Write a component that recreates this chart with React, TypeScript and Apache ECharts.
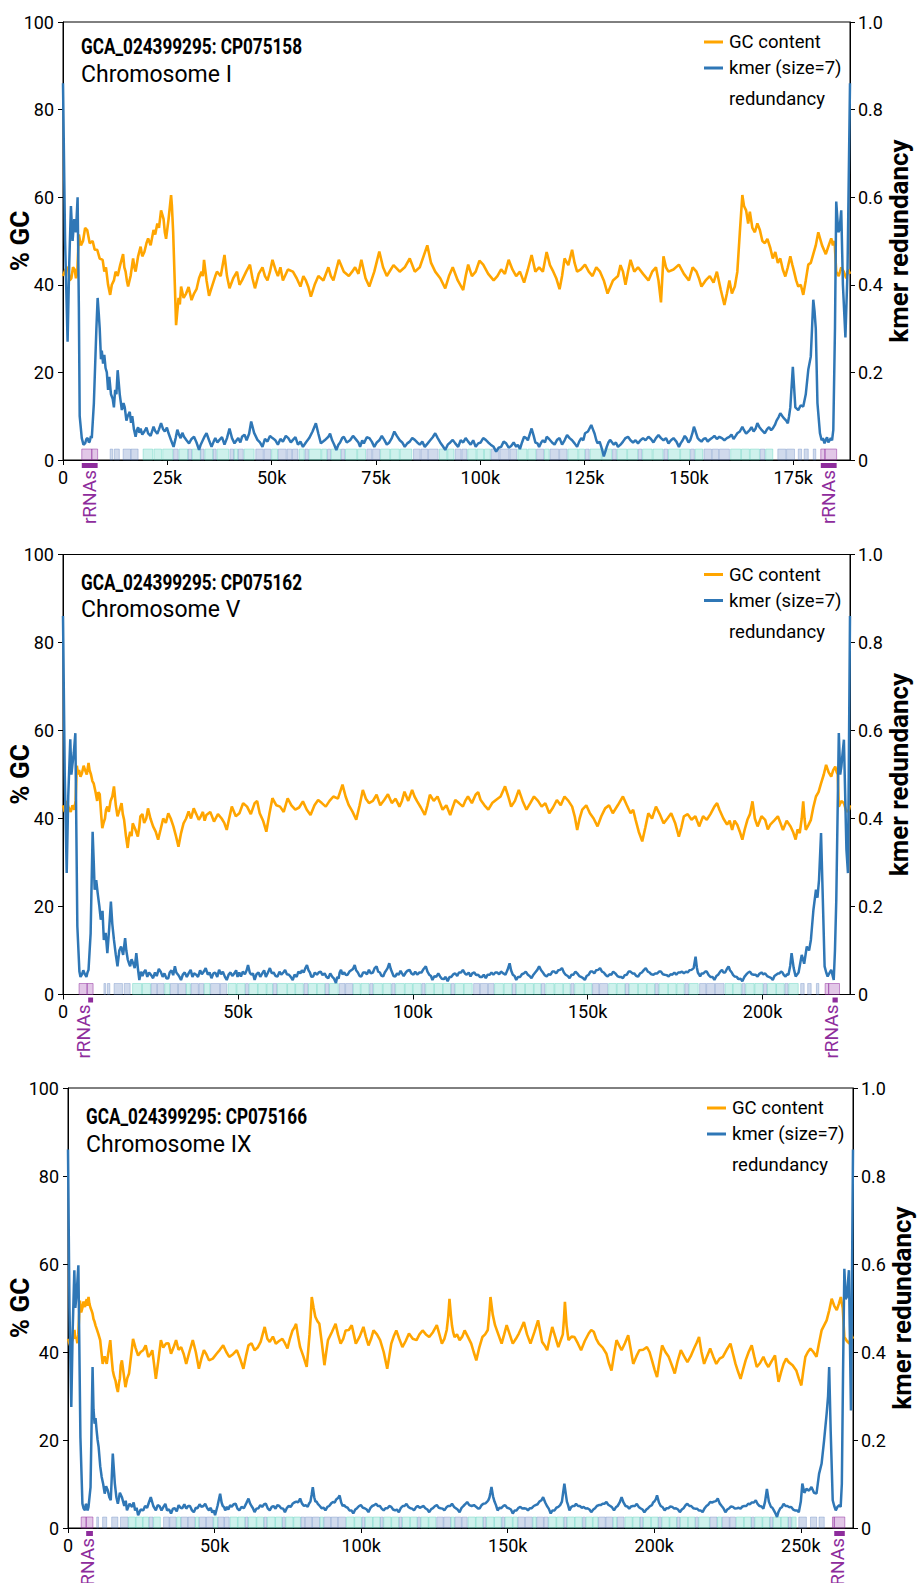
import { useEffect, useRef } from 'react';
import * as echarts from 'echarts';

// ---------- Chromosome I (CP075158) : position in kb ----------
const chr1Gc: [number, number][] = [
  [0, 42], [0.6, 43.5], [1.2, 44], [1.6, 41], [2.0, 41.5], [2.4, 44], [2.8, 43.5], [3.1, 41.5], [3.4, 42.5], [3.8, 51.5], [4.3, 49], [4.8, 50], [5.3, 53], [5.8, 52.5], [6.4, 49.5], [7.1, 50], [7.6, 48], [8.2, 48], [8.8, 46], [9.5, 45.7], [9.9, 43], [10.3, 44], [10.8, 40], [11.3, 37.7], [11.7, 40], [12.2, 41], [12.6, 43], [13.1, 42], [13.7, 44.5], [14.4, 47], [14.7, 44], [15.0, 43], [15.3, 41], [15.6, 39.6], [16.2, 42], [16.8, 46], [17.1, 44], [17.4, 43], [18.0, 46.5], [18.6, 48.7], [19.0, 46.5], [19.5, 47.5], [20.0, 49.5], [20.4, 50.6], [21.0, 49], [21.7, 52.5], [22.1, 51.5], [22.6, 54], [23.0, 53], [23.5, 57], [23.8, 56], [24.1, 55], [24.4, 52], [24.7, 50.5], [25.3, 55], [25.9, 60.5], [26.1, 58], [26.4, 52], [26.8, 40], [27.1, 30.8], [27.4, 34], [27.7, 37], [28.0, 35.5], [28.3, 39.6], [28.9, 37], [29.5, 38], [30.1, 39.5], [30.8, 36.5], [31.4, 38], [32.0, 39], [32.6, 41.5], [33.2, 43], [33.5, 42], [33.8, 45.7], [34.4, 41], [35.0, 37.5], [35.5, 39], [36.0, 40.5], [36.5, 42], [36.9, 43], [37.8, 42], [38.7, 46.8], [39.3, 42], [39.9, 39.2], [40.8, 41.5], [41.7, 43], [42.3, 40], [42.9, 41], [43.9, 43], [44.8, 44.6], [45.4, 41.5], [46.0, 39.2], [46.9, 42.5], [47.8, 44], [48.4, 42], [49.0, 41], [49.6, 43], [50.2, 45.7], [50.9, 43.5], [51.5, 42], [52.1, 44], [52.7, 41], [53.9, 43.5], [55.1, 43], [56.0, 41.5], [56.9, 39.6], [57.6, 42], [58.2, 41], [58.8, 39.5], [59.4, 37.3], [60.3, 40], [61.2, 42], [62.4, 41], [63.6, 44], [64.2, 42], [64.8, 41], [65.5, 43.5], [66.1, 45.7], [67.3, 43], [68.5, 42], [69.3, 43], [70.0, 44], [70.8, 42.5], [71.5, 45.7], [72.5, 41.5], [73.4, 39.6], [74.6, 43], [75.8, 47.6], [76.7, 44], [77.6, 42], [79.2, 44.5], [80.7, 43], [81.9, 44], [83.1, 46], [84.3, 43], [85.5, 44], [86.4, 46.5], [87.3, 49], [88.2, 45], [89.2, 43], [90.4, 41.5], [91.6, 39.2], [92.5, 42], [93.4, 44], [94.6, 41], [95.9, 38.8], [96.5, 42], [97.1, 44.6], [98.0, 42], [98.9, 43], [99.8, 45.5], [100.7, 44.6], [101.9, 42.5], [103.2, 41], [104.1, 42], [105, 43.5], [105.9, 42.5], [106.8, 45.7], [107.7, 43.5], [108.6, 42], [109.5, 43], [110.5, 40.5], [111.4, 43.5], [112.3, 46.8], [113.2, 43], [114.1, 44], [115.0, 43], [115.9, 47.5], [116.7, 44.5], [117.5, 43], [118.2, 41.5], [119.0, 39], [119.6, 42], [120.2, 46], [121.1, 44.5], [122.0, 48], [122.6, 45], [123.2, 43], [124.1, 43.5], [125.1, 44.6], [126.0, 43], [126.9, 42], [127.8, 44], [128.7, 43], [129.6, 41], [130.5, 38], [131.8, 41], [133.0, 42], [133.6, 44.5], [134.2, 43], [134.8, 40], [135.4, 43], [136.0, 45.7], [136.9, 43], [137.8, 44], [139.0, 42.5], [140.3, 41], [141.2, 43], [142.1, 44], [142.7, 41], [143.3, 36], [143.9, 46.5], [144.5, 44], [145.1, 43], [146.3, 43.5], [147.6, 44.6], [148.8, 42.5], [150.0, 41], [150.9, 44], [151.8, 43], [152.4, 41.5], [153.0, 39.6], [154.0, 41], [155.0, 42], [155.9, 40.5], [156.7, 43], [157.6, 39], [158.5, 35.4], [159.1, 38], [159.7, 41], [160.3, 38], [161.0, 39.6], [161.6, 43], [162.2, 52], [162.8, 60.5], [163.2, 58], [163.7, 57], [164.2, 54], [164.6, 56.7], [165.2, 53], [165.8, 52], [166.4, 54], [167.0, 52.5], [167.6, 50], [168.2, 49.5], [168.8, 50.5], [169.5, 48.4], [170.1, 46], [170.7, 47.5], [171.3, 45], [171.9, 46], [172.5, 43.5], [173.1, 41.9], [173.7, 44], [174.3, 46.5], [174.8, 44.5], [175.2, 43], [175.7, 41], [176.2, 39.6], [176.8, 40], [177.4, 37.7], [178.0, 41], [178.6, 44.6], [179.2, 45], [179.8, 47], [180.4, 49], [181.0, 52], [181.9, 49], [182.8, 47], [183.5, 49], [184.1, 50.6], [184.5, 49], [184.9, 50], [185.3, 43], [185.9, 42], [186.5, 44], [187.1, 43], [187.7, 41.5], [188.2, 43.5], [188.6, 42.5],
];
const chr1Kmer: [number, number][] = [
  [0, 0.86], [0.5, 0.5], [1.1, 0.27], [1.5, 0.45], [1.9, 0.58], [2.3, 0.5], [2.7, 0.55], [3.1, 0.52], [3.5, 0.6], [3.8, 0.35], [4.0, 0.1], [4.5, 0.05], [4.9, 0.035], [5.3, 0.038], [5.6, 0.048], [5.9, 0.05], [6.2, 0.04], [6.4, 0.042], [6.7, 0.055], [6.9, 0.05], [7.4, 0.13], [8.0, 0.3], [8.3, 0.37], [8.6, 0.33], [8.8, 0.3], [9.1, 0.23], [9.3, 0.25], [9.6, 0.22], [9.9, 0.24], [10.2, 0.21], [10.5, 0.2], [10.8, 0.16], [11.1, 0.19], [11.5, 0.15], [11.9, 0.14], [12.2, 0.12], [12.5, 0.16], [12.8, 0.15], [13.1, 0.205], [13.6, 0.15], [14.1, 0.114], [14.5, 0.13], [14.8, 0.12], [15.2, 0.09], [15.5, 0.1], [16.0, 0.11], [16.3, 0.085], [16.6, 0.1], [17.0, 0.07], [17.4, 0.053],
  [17.7, 0.068], [18.0, 0.075], [18.3, 0.062], [18.6, 0.072], [19.0, 0.058], [19.5, 0.065], [20.0, 0.074], [20.4, 0.061], [21.0, 0.055], [21.7, 0.076], [22.1, 0.066], [22.6, 0.06], [23.0, 0.07], [23.5, 0.084], [24.0, 0.07], [24.4, 0.065], [24.9, 0.074], [25.3, 0.061], [25.9, 0.045], [26.5, 0.03], [27.0, 0.05], [27.4, 0.069], [27.8, 0.058], [28.2, 0.05], [28.6, 0.062], [29.0, 0.053], [29.6, 0.045], [30.2, 0.038], [30.8, 0.048], [31.4, 0.053], [32.0, 0.04], [32.6, 0.023], [33.0, 0.035], [33.5, 0.045], [34.0, 0.055], [34.4, 0.061], [35.0, 0.045], [35.6, 0.03], [36.1, 0.042], [36.5, 0.05], [37.0, 0.04], [37.5, 0.046], [38.1, 0.052], [38.7, 0.035], [39.3, 0.05], [39.9, 0.072], [40.5, 0.05], [41.1, 0.038], [41.6, 0.045], [42.0, 0.05], [42.5, 0.04], [42.9, 0.053], [43.5, 0.058], [44.0, 0.045], [44.6, 0.06], [45.1, 0.088], [45.8, 0.062], [46.6, 0.046], [47.2, 0.04], [47.8, 0.03], [48.4, 0.048], [49.0, 0.042], [49.6, 0.055], [50.2, 0.05], [50.9, 0.045], [51.5, 0.035], [52.1, 0.048], [52.7, 0.042], [53.4, 0.055], [54.0, 0.05], [54.6, 0.04], [55.1, 0.046], [55.7, 0.052], [56.3, 0.035], [56.9, 0.042], [57.5, 0.03], [58.2, 0.04], [59.0, 0.05], [59.8, 0.065], [60.6, 0.084], [61.2, 0.06], [61.8, 0.038], [62.7, 0.045], [63.6, 0.053], [64.0, 0.06], [64.5, 0.045], [65.0, 0.035], [65.5, 0.023], [66.0, 0.035], [66.4, 0.04], [66.9, 0.05], [67.3, 0.053], [68.0, 0.04], [68.8, 0.045], [69.5, 0.055], [70.3, 0.046], [70.8, 0.04], [71.2, 0.03], [71.7, 0.045], [72.1, 0.038], [72.8, 0.052], [73.4, 0.05], [74.0, 0.042], [74.6, 0.03], [75.2, 0.04], [75.8, 0.045], [76.4, 0.055], [77.0, 0.046], [77.6, 0.035], [78.2, 0.04], [78.8, 0.05], [79.4, 0.065], [80.0, 0.055], [80.7, 0.045], [81.3, 0.04], [81.9, 0.03], [82.5, 0.038], [83.1, 0.042], [83.7, 0.05], [84.3, 0.046], [84.9, 0.04], [85.5, 0.035], [86.1, 0.042], [86.7, 0.03], [87.4, 0.038], [88.0, 0.045], [88.6, 0.052], [89.2, 0.061], [89.8, 0.05], [90.4, 0.04], [91.0, 0.032], [91.6, 0.023], [92.2, 0.035], [92.8, 0.04], [93.4, 0.046], [94.0, 0.038], [94.7, 0.03], [95.3, 0.045], [95.9, 0.04], [96.5, 0.05], [97.1, 0.042], [97.7, 0.035], [98.3, 0.045], [98.9, 0.03], [99.5, 0.038], [100.1, 0.04], [100.7, 0.05], [101.3, 0.046], [101.9, 0.04], [102.5, 0.035], [103.2, 0.03], [103.8, 0.019], [104.4, 0.028], [105.0, 0.03], [105.6, 0.042], [106.2, 0.038], [106.8, 0.028], [107.4, 0.032], [108.0, 0.04], [108.6, 0.03], [109.0, 0.035], [109.5, 0.025], [110.0, 0.04], [110.5, 0.053], [111.0, 0.05], [111.4, 0.045], [111.9, 0.06], [112.3, 0.072], [112.8, 0.055], [113.2, 0.04], [113.7, 0.038], [114.1, 0.03], [114.6, 0.04], [115.0, 0.045], [115.5, 0.04], [115.9, 0.053], [116.5, 0.048], [117.2, 0.04], [117.8, 0.035], [118.4, 0.046], [119.0, 0.05], [119.6, 0.035], [120.2, 0.045], [120.8, 0.057], [121.4, 0.05], [122.0, 0.045], [122.6, 0.038], [123.2, 0.03], [123.7, 0.042], [124.2, 0.05], [124.7, 0.045], [125.1, 0.061], [125.8, 0.065], [126.6, 0.08], [127.0, 0.07], [127.4, 0.06], [127.8, 0.045], [128.1, 0.038], [128.6, 0.042], [129.0, 0.03], [129.3, 0.02], [129.6, 0.008], [130.0, 0.02], [130.3, 0.03], [130.7, 0.04], [131.1, 0.046], [131.6, 0.04], [132.0, 0.035], [132.5, 0.04], [133.0, 0.03], [133.6, 0.035], [134.2, 0.042], [134.8, 0.05], [135.4, 0.053], [136.0, 0.045], [136.6, 0.04], [137.2, 0.045], [137.8, 0.038], [138.4, 0.045], [139.0, 0.05], [139.6, 0.045], [140.3, 0.053], [140.9, 0.048], [141.5, 0.04], [142.1, 0.05], [142.7, 0.057], [143.3, 0.05], [143.9, 0.045], [144.5, 0.05], [145.1, 0.038], [145.7, 0.045], [146.3, 0.05], [147.0, 0.042], [147.6, 0.03], [148.0, 0.038], [148.5, 0.045], [149.0, 0.055], [149.4, 0.05], [149.9, 0.04], [150.3, 0.045], [150.8, 0.06], [151.2, 0.076], [151.6, 0.065], [152.1, 0.05], [152.6, 0.045], [153.0, 0.042], [153.5, 0.048], [154.0, 0.05], [154.5, 0.042], [154.9, 0.046], [155.5, 0.05], [156.1, 0.055], [156.7, 0.048], [157.3, 0.053], [157.9, 0.05], [158.5, 0.045], [159.1, 0.05], [159.7, 0.053], [160.2, 0.058], [160.7, 0.048], [161.2, 0.055], [161.6, 0.061], [162.2, 0.065], [162.8, 0.076], [163.2, 0.068], [163.7, 0.06], [164.2, 0.065], [164.6, 0.069], [165.0, 0.075], [165.5, 0.065], [166.0, 0.072], [166.4, 0.084], [166.9, 0.075], [167.3, 0.07], [167.8, 0.065], [168.2, 0.061], [168.7, 0.07], [169.2, 0.075], [169.7, 0.068], [170.1, 0.072], [170.6, 0.08], [171.0, 0.09], [171.5, 0.098], [171.9, 0.107], [172.4, 0.1], [172.8, 0.095], [173.3, 0.09], [173.7, 0.084], [174.0, 0.1],
  [174.3, 0.12], [174.9, 0.213], [175.5, 0.12], [176.2, 0.114], [176.8, 0.125], [177.4, 0.122], [178.0, 0.15], [178.6, 0.206], [179.2, 0.236], [179.5, 0.3], [179.8, 0.366], [180.1, 0.34], [180.4, 0.3], [180.8, 0.13], [181.4, 0.061], [181.8, 0.045], [182.1, 0.05], [182.5, 0.038], [182.8, 0.046], [183.1, 0.052], [183.4, 0.04], [183.7, 0.045], [184.0, 0.05], [184.3, 0.045], [184.6, 0.069], [185.0, 0.3], [185.3, 0.59], [185.8, 0.52], [186.1, 0.526], [186.5, 0.57], [186.9, 0.4], [187.5, 0.28], [188.0, 0.43], [188.6, 0.86],
];
// gene features [start kb, end kb, kind: 0 = teal, 1 = blue]
const chr1Genes: [number, number, number][] = [
  [11.3, 11.9, 1], [12.3, 13.5, 1], [14.4, 16.2, 1], [16.3, 18.0, 1], [19.2, 21.5, 0], [21.8, 23.6, 0], [23.9, 26.3, 0], [26.5, 27.6, 1], [27.8, 29.9, 0], [30.0, 30.8, 1], [31.0, 32.9, 0], [33.0, 33.8, 1], [34.0, 35.9, 0], [36.0, 36.7, 1], [36.9, 39.7, 0], [40.0, 40.9, 1], [41.0, 41.9, 0], [42.0, 43.2, 1], [43.4, 45.8, 0], [46.2, 48.0, 1], [48.2, 49.8, 1], [50.0, 51.4, 0], [51.6, 53.5, 1], [53.7, 54.8, 1], [55.0, 56.3, 1], [56.6, 57.8, 0], [58.0, 58.8, 1], [59.0, 61.8, 0], [62.0, 63.2, 0], [63.4, 64.1, 1], [64.3, 66.5, 0], [66.7, 67.5, 1], [67.7, 70.4, 0], [70.6, 72.5, 0], [72.8, 74.0, 1], [74.2, 75.9, 1], [76.1, 78.3, 0], [78.5, 80.6, 0], [80.8, 83.6, 0], [84.0, 85.6, 1], [85.8, 87.4, 1], [87.6, 89.9, 1], [90.2, 92.0, 0], [92.2, 93.7, 0], [94.0, 95.4, 1], [95.6, 96.8, 1], [97.0, 99.0, 0], [99.2, 100.8, 0], [101.0, 102.4, 0], [102.6, 104.5, 1], [104.7, 106.9, 1], [107.1, 108.7, 1], [109.0, 111.2, 0], [111.4, 113.3, 0], [113.5, 115.2, 1], [115.4, 116.5, 0], [116.7, 118.8, 1], [119.0, 120.8, 1], [121.0, 123.4, 0], [123.6, 125.0, 0], [125.2, 126.1, 1], [126.3, 129.0, 0], [129.2, 131.5, 0], [131.7, 132.6, 1], [132.8, 135.1, 0], [135.3, 137.7, 0], [137.9, 138.7, 1], [138.9, 141.2, 0], [141.4, 143.8, 0], [144.0, 144.9, 1], [145.1, 147.8, 0], [148.0, 150.2, 0], [150.4, 151.3, 1], [151.5, 153.3, 0], [153.6, 155.4, 1], [155.6, 157.1, 1], [157.3, 159.7, 1], [160.0, 162.4, 0], [162.6, 164.5, 0], [164.7, 166.9, 0], [167.1, 168.2, 1], [168.4, 170.1, 0], [171.3, 173.2, 1], [173.4, 175.3, 1], [176.2, 177.0, 1], [177.6, 178.6, 1], [179.8, 180.4, 1],
];
const chr1RrnaRegions: [number, number][] = [[4.5, 6.9], [6.9, 8.3], [181.6, 182.6], [182.6, 185.4]];
const chr1RrnaBars: [number, number][] = [[4.5, 8.3], [181.6, 185.4]];
const chr1RrnaLabels: number[] = [6.4, 183.5];

// ---------- Chromosome V (CP075162) ----------
const chr5Gc: [number, number][] = [
  [0, 43], [0.5, 41.5], [1.06, 44], [1.6, 42.5], [2.2, 41.5], [2.7, 43], [3.24, 42], [3.6, 44], [3.96, 52], [4.3, 50], [4.6, 51], [5.0, 49.5], [5.42, 50.3], [5.9, 52], [6.3, 51], [6.8, 50], [7.3, 52.6], [7.6, 51], [8.0, 50], [8.4, 48.5], [8.76, 48], [9.3, 46], [9.77, 44], [10.1, 46], [10.5, 45.5], [10.9, 41], [11.23, 37.8], [11.6, 39], [12.0, 40], [12.3, 42], [12.68, 42.7], [13.1, 41.5], [13.6, 44], [14.1, 45], [14.57, 47.3], [15.1, 43], [15.58, 40.5], [16.2, 42], [16.74, 43.5], [17.1, 41], [17.47, 39.7], [18.0, 36], [18.49, 33.3], [18.8, 35.5], [19.2, 37], [19.6, 36], [19.94, 38.9], [20.7, 37.5], [21.39, 35.9], [21.8, 38], [22.12, 40.5], [22.7, 41], [23.2, 39], [23.8, 40], [24.3, 42.3], [25.0, 40], [25.75, 38.2], [26.5, 37], [27.2, 35.2], [27.9, 37.5], [28.65, 40], [29.4, 39], [30.1, 41.2], [30.8, 40], [31.56, 38.2], [32.3, 36], [33.01, 33.6], [33.7, 36.5], [34.46, 38.9], [35.2, 40], [35.91, 41.6], [36.6, 40], [37.37, 42.3], [38.1, 41], [38.82, 39.7], [39.4, 40.5], [40.0, 41.5], [40.5, 39.5], [41.0, 40.8], [42.1, 41.5], [43.17, 39.3], [44.3, 41], [45.35, 40], [46.1, 39], [46.81, 37.4], [47.5, 40], [48.26, 42.7], [49.4, 40.5], [50.44, 41.2], [51.5, 43.5], [52.62, 42.7], [53.7, 41], [54.79, 43.5], [55.5, 44], [56.24, 41.2], [57.2, 39.5], [58.13, 37], [59.0, 41], [59.87, 44.6], [61.0, 43], [62.05, 42.7], [63.1, 41.5], [64.23, 44.6], [65.3, 43], [66.41, 42], [67.5, 42.5], [68.59, 43.9], [69.7, 42], [70.77, 40.8], [71.9, 43], [72.94, 44.2], [74.0, 43.5], [75.12, 42.7], [76.2, 44], [77.3, 45], [78.6, 44.5], [79.91, 47.7], [80.8, 45], [81.66, 43.1], [82.8, 41.5], [83.84, 39.7], [84.8, 43], [85.72, 46.5], [86.6, 44.5], [87.47, 43.5], [88.6, 44], [89.65, 45.4], [90.7, 43], [91.82, 44.2], [92.9, 45.5], [94.0, 43.5], [95.1, 44.5], [96.18, 42.7], [96.9, 44], [97.63, 46.1], [98.7, 44], [99.81, 46.5], [100.5, 45], [101.26, 43.9], [102.3, 42.5], [103.44, 40.8], [104.2, 43], [104.89, 45.4], [106.0, 44], [107.07, 45], [107.8, 43.5], [108.52, 42], [109.6, 43], [110.7, 40.8], [111.4, 42.5], [112.15, 44.2], [113.2, 43.5], [114.33, 42.7], [115.0, 44], [115.78, 45], [116.9, 43.5], [117.96, 45.4], [118.7, 46], [119.41, 44.2], [120.5, 43], [121.59, 42], [122.7, 43.5], [123.77, 44.2], [125.1, 45], [126.38, 47.3], [127.3, 45], [128.13, 42.7], [129.2, 44], [130.31, 46.5], [131.4, 44], [132.49, 42], [133.6, 43.5], [134.66, 45], [135.8, 44], [136.84, 42.7], [137.9, 43.5], [139.02, 41.2], [140.1, 42.5], [141.2, 44.2], [142.3, 43], [143.38, 45], [144.5, 44], [145.56, 42.7], [146.3, 40.5], [147.01, 37.4], [147.7, 40], [148.46, 42], [149.6, 43], [150.64, 41.2], [151.7, 40], [152.82, 38.2], [153.9, 40.5], [155.0, 42.3], [156.1, 43], [157.18, 41.2], [158.6, 43], [160.08, 45], [161.2, 43], [162.26, 41.2], [163.0, 42], [163.71, 39.7], [164.6, 37], [165.6, 34.8], [166.5, 38], [167.34, 41.2], [168.4, 40], [169.52, 42.7], [170.6, 41], [171.7, 38.9], [172.8, 40], [173.88, 41.2], [175.0, 39], [176.06, 35.9], [176.8, 38], [177.51, 40.5], [178.6, 41], [179.69, 39.7], [180.8, 40.5], [181.87, 38.2], [183.0, 40.5], [184.05, 39.7], [185.1, 41], [186.23, 42.7], [187.0, 43.5], [187.68, 42], [188.8, 40], [189.86, 38.6], [190.6, 39.5], [191.31, 37.4], [192.0, 39.5], [192.76, 38.6], [193.5, 37], [194.22, 35.2], [194.9, 37.5], [195.67, 39.7], [196.4, 41], [197.12, 43.9], [197.8, 40], [198.57, 38.2], [199.7, 40.5], [200.75, 39.7], [201.5, 37.5], [202.2, 38.6], [203.3, 39.5], [204.38, 40.5], [205.1, 39], [205.83, 37.4], [206.9, 39.5], [208.01, 38.2], [208.7, 37], [209.46, 35.2], [210.0, 37.5], [210.63, 36.7], [211.2, 40], [211.63, 43.9], [212.0, 40], [212.36, 37.4], [213.1, 38.5], [213.82, 39.7], [214.5, 42.5], [215.27, 45], [216.0, 46], [216.72, 48], [217.5, 50], [218.17, 52.2], [218.9, 50.5], [219.63, 49.5], [220.2, 51], [220.79, 51.8], [221.2, 50.5], [221.5, 50], [221.8, 42.7], [222.5, 44], [223.26, 43.5], [224.0, 41.5], [224.71, 42], [225, 43],
];
const chr5Kmer: [number, number][] = [
  [0, 0.86], [0.5, 0.5], [1.06, 0.276], [1.5, 0.45], [2.08, 0.58], [2.4, 0.5], [2.66, 0.52], [3.1, 0.55], [3.53, 0.594], [4.1, 0.155], [4.69, 0.052], [5.0, 0.04], [5.4, 0.045], [5.8, 0.055], [6.14, 0.048], [6.7, 0.04], [7.0, 0.05], [7.3, 0.056], [7.9, 0.139], [8.47, 0.37], [8.8, 0.3], [9.05, 0.238], [9.5, 0.26], [9.92, 0.23], [10.4, 0.2], [10.8, 0.17], [11.3, 0.19], [11.67, 0.124], [12.2, 0.14], [12.68, 0.094], [13.2, 0.15], [13.69, 0.211], [14.1, 0.16], [14.57, 0.124], [15.1, 0.09], [15.58, 0.064], [16.1, 0.1], [16.6, 0.109], [17.2, 0.09], [17.76, 0.128], [18.1, 0.1], [18.5, 0.08], [18.9, 0.07], [19.2, 0.064], [19.6, 0.08], [20.1, 0.07], [20.5, 0.06], [20.96, 0.094], [21.4, 0.06], [21.83, 0.033],
  [22.3, 0.052], [22.7, 0.042], [23.1, 0.05], [23.57, 0.056], [24.1, 0.04], [24.6, 0.05], [25.2, 0.044], [25.75, 0.037], [26.3, 0.05], [26.8, 0.042], [27.4, 0.058], [27.93, 0.052], [28.5, 0.04], [29.0, 0.048], [29.6, 0.036], [30.1, 0.037], [30.5, 0.05], [31.0, 0.055], [31.5, 0.044], [31.99, 0.064], [32.4, 0.05], [32.9, 0.045], [33.3, 0.04], [33.74, 0.033], [34.3, 0.046], [34.8, 0.05], [35.4, 0.04], [35.91, 0.048], [36.5, 0.056], [37.0, 0.04], [37.5, 0.048], [38.09, 0.045], [38.6, 0.04], [39.2, 0.055], [39.7, 0.046], [40.27, 0.052], [40.8, 0.06], [41.4, 0.045], [41.9, 0.05], [42.45, 0.037], [43.0, 0.048], [43.5, 0.05], [44.1, 0.04], [44.63, 0.056], [45.2, 0.046], [45.7, 0.052], [46.3, 0.04], [46.81, 0.033], [47.4, 0.046], [47.9, 0.05], [48.4, 0.042], [48.98, 0.048], [49.5, 0.055], [49.9, 0.04], [50.4, 0.05], [50.87, 0.041], [51.4, 0.052], [52.0, 0.046], [52.5, 0.055], [52.9, 0.067], [53.4, 0.05], [53.8, 0.045], [54.3, 0.048], [54.79, 0.033], [55.3, 0.046], [55.9, 0.05], [56.4, 0.04], [56.97, 0.048], [57.5, 0.055], [58.0, 0.04], [58.6, 0.05], [59.15, 0.06], [59.7, 0.048], [60.2, 0.05], [60.8, 0.042], [61.33, 0.041], [61.9, 0.052], [62.4, 0.045], [63.0, 0.05], [63.5, 0.056], [64.0, 0.046], [64.6, 0.045], [65.1, 0.04], [65.68, 0.033], [66.2, 0.045], [66.8, 0.04], [67.3, 0.052], [67.86, 0.048], [68.3, 0.055], [68.8, 0.05], [69.3, 0.06], [69.75, 0.067], [70.2, 0.055], [70.6, 0.05], [71.0, 0.04], [71.5, 0.041], [72.0, 0.05], [72.6, 0.045], [73.1, 0.05], [73.67, 0.052], [74.2, 0.044], [74.8, 0.048], [75.3, 0.04], [75.85, 0.037], [76.4, 0.048], [77.0, 0.04], [77.5, 0.036], [78.03, 0.026], [78.4, 0.04], [78.8, 0.036], [79.1, 0.05], [79.48, 0.056], [79.9, 0.046], [80.4, 0.05], [80.9, 0.044], [81.37, 0.045], [81.9, 0.052], [82.4, 0.055], [82.9, 0.058], [83.4, 0.067], [83.8, 0.055], [84.3, 0.05], [84.8, 0.042], [85.29, 0.041], [85.8, 0.05], [86.4, 0.05], [86.9, 0.046], [87.47, 0.056], [88.0, 0.048], [88.6, 0.05], [89.1, 0.06], [89.65, 0.064], [90.1, 0.052], [90.6, 0.05], [91.0, 0.043], [91.53, 0.041], [92.0, 0.05], [92.4, 0.055], [92.8, 0.06], [93.28, 0.071], [93.7, 0.058], [94.1, 0.05], [94.5, 0.042], [95.02, 0.041], [95.5, 0.048], [96.0, 0.045], [96.5, 0.054], [96.91, 0.048], [97.4, 0.042], [98.0, 0.05], [98.5, 0.054], [99.09, 0.056], [99.6, 0.048], [100.2, 0.045], [100.7, 0.052], [101.26, 0.045], [101.9, 0.05], [102.5, 0.05], [103.1, 0.058], [103.73, 0.064], [104.2, 0.052], [104.7, 0.045], [105.2, 0.042], [105.62, 0.033], [106.2, 0.042], [106.7, 0.04], [107.3, 0.048], [107.8, 0.041], [108.3, 0.036], [108.9, 0.035], [109.4, 0.04], [109.98, 0.03], [110.5, 0.04], [111.0, 0.04], [111.6, 0.046], [112.15, 0.048], [112.7, 0.042], [113.2, 0.05], [113.8, 0.05], [114.33, 0.056], [114.9, 0.048], [115.4, 0.045], [116.0, 0.05], [116.51, 0.041], [117.0, 0.048], [117.6, 0.05], [118.1, 0.044], [118.69, 0.045], [119.2, 0.04], [119.8, 0.04], [120.3, 0.045], [120.87, 0.037], [121.4, 0.045], [122.0, 0.045], [122.5, 0.05], [123.05, 0.045], [123.6, 0.05], [124.1, 0.05], [124.7, 0.046], [125.22, 0.052], [125.9, 0.048], [126.5, 0.045], [127.1, 0.056], [127.69, 0.071], [128.1, 0.055], [128.6, 0.045], [129.1, 0.042], [129.58, 0.033], [130.1, 0.04], [130.7, 0.04], [131.2, 0.046], [131.76, 0.048], [132.3, 0.052], [132.9, 0.045], [133.4, 0.042], [133.94, 0.037], [134.5, 0.045], [135.0, 0.05], [135.6, 0.056], [136.12, 0.064], [136.7, 0.055], [137.2, 0.05], [137.7, 0.044], [138.29, 0.041], [138.8, 0.046], [139.4, 0.045], [139.9, 0.052], [140.47, 0.052], [141.0, 0.048], [141.6, 0.055], [142.1, 0.056], [142.65, 0.06], [143.2, 0.05], [143.7, 0.045], [144.3, 0.042], [144.83, 0.037], [145.4, 0.045], [145.9, 0.045], [146.5, 0.052], [147.01, 0.048], [147.6, 0.042], [148.1, 0.04], [148.6, 0.038], [149.19, 0.033], [149.7, 0.042], [150.3, 0.045], [150.8, 0.052], [151.37, 0.052], [151.9, 0.048], [152.4, 0.055], [153.0, 0.056], [153.54, 0.06], [154.1, 0.052], [154.6, 0.05], [155.2, 0.044], [155.72, 0.041], [156.3, 0.046], [156.8, 0.045], [157.3, 0.052], [157.9, 0.048], [158.5, 0.042], [159.0, 0.04], [159.5, 0.04], [160.08, 0.037], [160.6, 0.044], [161.2, 0.045], [161.7, 0.052], [162.26, 0.052], [162.8, 0.048], [163.3, 0.048], [163.9, 0.042], [164.44, 0.041], [165.0, 0.048], [165.5, 0.05], [166.1, 0.056], [166.61, 0.06], [167.2, 0.052], [167.7, 0.05], [168.2, 0.046], [168.79, 0.045], [169.3, 0.048], [169.9, 0.048], [170.4, 0.052], [170.97, 0.052], [171.5, 0.046], [172.0, 0.045], [172.6, 0.044], [173.15, 0.041], [173.7, 0.046], [174.2, 0.045], [174.8, 0.05], [175.33, 0.045], [175.9, 0.05], [176.4, 0.05], [177.0, 0.052], [177.51, 0.048], [178.1, 0.052], [178.6, 0.05], [179.1, 0.055], [179.69, 0.056], [180.3, 0.06], [180.85, 0.086], [181.2, 0.062], [181.5, 0.05], [181.8, 0.046], [182.15, 0.041], [182.6, 0.048], [183.1, 0.048], [183.6, 0.052], [184.05, 0.052], [184.6, 0.044], [185.1, 0.04], [185.7, 0.04], [186.23, 0.033], [186.8, 0.042], [187.3, 0.045], [187.9, 0.052], [188.4, 0.056], [188.8, 0.05], [189.3, 0.05], [189.8, 0.058], [190.29, 0.064], [190.7, 0.055], [191.2, 0.05], [191.6, 0.044], [192.04, 0.041], [192.6, 0.04], [193.1, 0.035], [193.7, 0.036], [194.22, 0.03], [194.8, 0.04], [195.3, 0.045], [195.9, 0.05], [196.4, 0.052], [196.9, 0.046], [197.5, 0.045], [198.0, 0.045], [198.57, 0.041], [199.1, 0.047], [199.7, 0.05], [200.2, 0.046], [200.75, 0.048], [201.3, 0.042], [201.8, 0.04], [202.4, 0.038], [202.93, 0.033], [203.4, 0.042], [203.9, 0.045], [204.4, 0.048], [204.82, 0.048], [205.3, 0.052], [205.7, 0.05], [206.1, 0.044], [206.56, 0.041], [207.0, 0.046], [207.4, 0.045], [207.9, 0.065],
  [208.3, 0.094], [208.9, 0.06], [209.46, 0.041], [210.3, 0.05], [211.2, 0.09], [211.9, 0.07], [212.65, 0.109], [213.3, 0.1], [213.82, 0.124], [214.54, 0.192], [215.27, 0.238], [215.7, 0.22], [216.14, 0.26], [216.72, 0.367], [217.15, 0.24], [217.74, 0.064], [218.2, 0.05], [218.61, 0.041], [219.2, 0.05], [219.63, 0.056], [220.35, 0.033], [220.7, 0.1], [221.08, 0.215], [221.8, 0.594], [222.2, 0.5], [222.53, 0.518], [222.9, 0.55], [223.26, 0.579], [223.98, 0.329], [224.42, 0.276], [225.0, 0.86],
];
const chr5Genes: [number, number, number][] = [
  [11.7, 12.2, 1], [12.7, 13.4, 1], [14.6, 17.0, 1], [17.5, 19.2, 1], [19.9, 22.5, 0], [22.7, 25.0, 0], [25.2, 26.8, 1], [27.0, 28.9, 1], [29.1, 30.5, 0], [30.7, 32.8, 1], [33.0, 35.1, 1], [35.3, 36.4, 0], [36.6, 38.7, 1], [38.9, 40.2, 1], [40.4, 42.0, 0], [42.2, 44.8, 1], [45.0, 46.8, 1], [47.2, 49.5, 0], [49.7, 52.0, 0], [52.2, 53.0, 1], [53.2, 55.6, 0], [55.8, 58.1, 0], [58.3, 59.9, 0], [60.1, 61.1, 1], [61.3, 64.0, 0], [64.2, 66.3, 0], [66.5, 68.7, 0], [68.9, 70.0, 1], [70.2, 72.5, 0], [72.7, 74.8, 0], [75.0, 76.0, 1], [76.2, 78.7, 0], [79.0, 80.6, 1], [80.8, 82.8, 1], [83.0, 85.0, 0], [85.2, 87.5, 0], [87.7, 88.6, 1], [88.8, 91.3, 0], [91.5, 93.8, 0], [94.0, 94.9, 1], [95.1, 97.6, 0], [97.8, 99.9, 0], [100.1, 102.4, 0], [102.6, 103.5, 1], [103.7, 106.0, 0], [106.2, 108.5, 0], [108.7, 110.8, 0], [111.0, 111.9, 1], [112.1, 114.5, 0], [114.7, 117.0, 0], [117.4, 119.1, 1], [119.3, 121.4, 1], [121.6, 123.2, 1], [123.4, 125.9, 0], [126.1, 128.3, 0], [128.5, 129.4, 1], [129.6, 132.0, 0], [132.2, 134.5, 0], [134.7, 136.6, 0], [136.8, 137.7, 1], [138.0, 140.4, 0], [140.6, 142.9, 0], [143.1, 145.0, 0], [145.2, 146.1, 1], [146.3, 148.9, 0], [149.1, 151.2, 0], [151.4, 153.2, 1], [153.4, 155.7, 1], [156.0, 158.2, 0], [158.4, 160.6, 0], [160.8, 161.7, 1], [161.9, 164.3, 0], [164.5, 166.8, 0], [167.0, 169.1, 0], [169.3, 170.2, 1], [170.4, 172.9, 0], [173.1, 175.3, 0], [175.5, 177.6, 0], [177.8, 178.8, 1], [179.0, 181.6, 0], [182.0, 183.8, 1], [184.0, 186.3, 1], [186.5, 189.0, 1], [189.3, 191.4, 0], [191.6, 193.9, 0], [194.1, 195.0, 1], [195.2, 197.6, 0], [197.8, 200.1, 0], [200.3, 201.2, 1], [201.4, 203.8, 0], [204.0, 206.2, 0], [206.4, 207.3, 1], [207.5, 210.2, 0], [210.9, 211.9, 1], [212.9, 213.9, 1], [215.4, 216.1, 1],
];
const chr5RrnaRegions: [number, number][] = [[4.6, 6.9], [6.9, 8.6], [217.9, 218.9], [218.9, 222.0]];
const chr5RrnaBars: [number, number][] = [[7.2, 8.6], [220.0, 221.5]];
const chr5RrnaLabels: number[] = [5.9, 219.6];

// ---------- Chromosome IX (CP075166) ----------
const chr9Gc: [number, number][] = [
  [0, 43], [0.7, 41.5], [1.47, 42.7], [1.8, 44], [2.2, 45], [2.5, 43], [2.85, 43.4], [3.2, 42], [3.5, 44], [4.06, 51.7], [4.5, 49], [4.9, 50], [5.3, 51.5], [5.79, 50.2], [6.1, 51.5], [6.4, 52], [6.7, 50.5], [7.0, 52.5], [7.3, 51], [7.7, 50], [8.0, 49.5], [8.38, 48.7], [8.7, 47.5], [9.0, 47], [9.4, 46], [9.76, 45.3], [10.4, 44], [10.97, 42.7], [11.4, 40], [11.83, 37.3], [12.2, 38.5], [12.5, 39], [12.9, 38], [13.21, 37.3], [13.8, 40], [14.42, 42.7], [14.9, 38.5], [15.28, 35.8], [15.7, 34.5], [16.2, 33.5], [16.6, 32], [17.01, 30.9], [17.4, 33], [17.7, 34], [18.0, 37], [18.39, 38.1], [19.0, 35], [19.6, 32], [20.2, 34], [20.81, 35.1], [21.5, 39], [22.19, 43], [23.0, 41], [23.92, 39.2], [24.8, 40], [25.65, 40.4], [26.5, 41.5], [27.38, 38.9], [28.1, 39.5], [28.76, 40.4], [29.4, 37], [29.97, 33.9], [30.8, 38], [31.69, 42.7], [32.5, 41], [33.42, 41.9], [34.3, 42], [35.15, 39.6], [36.0, 41], [36.87, 42.7], [37.7, 40.5], [38.6, 41.1], [39.5, 39.5], [40.33, 37.3], [41.4, 40], [42.57, 42.7], [43.6, 40], [44.65, 36.2], [45.5, 38.5], [46.37, 40.4], [47.2, 39.5], [48.1, 38.1], [49.4, 38.5], [50.69, 39.6], [51.8, 40.5], [52.94, 41.5], [54.0, 40], [55.01, 38.9], [56.3, 39.5], [57.6, 40.4], [58.7, 38.5], [59.84, 36.2], [60.7, 39], [61.57, 41.5], [62.6, 42], [63.64, 40.4], [64.7, 41], [65.72, 42.3], [66.4, 44], [67.1, 45.7], [68.0, 43], [68.83, 42.3], [69.9, 43.5], [70.9, 41.9], [72.0, 42.5], [73.14, 43], [74.0, 42], [74.87, 40.8], [75.7, 43], [76.6, 44.9], [77.2, 45.5], [77.81, 46.4], [78.5, 43.5], [79.19, 41.1], [80.3, 39], [81.43, 36.6], [81.9, 40], [82.4, 44], [82.8, 48], [83.16, 52.5], [83.8, 50], [84.37, 48], [85.1, 47], [85.75, 46.4], [86.6, 42], [87.48, 37], [88.1, 40], [88.69, 42.7], [90.0, 44.5], [91.28, 46.4], [92.1, 44], [93.01, 41.9], [93.9, 43], [94.73, 44.9], [95.8, 45], [96.8, 46.1], [97.5, 44], [98.19, 41.9], [99.5, 43.5], [100.78, 45.7], [101.6, 43.5], [102.5, 41.5], [103.4, 43], [104.23, 44.9], [105.4, 44], [106.48, 42.7], [107.7, 40], [108.9, 36.2], [109.6, 39], [110.28, 41.9], [111.1, 43.5], [112.0, 44.9], [113.0, 43], [114.08, 41.1], [115.2, 42.5], [116.32, 44.2], [117.6, 43], [118.91, 42.7], [119.9, 44], [120.98, 44.9], [122.1, 44], [123.23, 43.4], [124.5, 44.5], [125.82, 46.1], [126.7, 44], [127.55, 41.9], [128.4, 43], [129.2, 45], [129.7, 48], [130.14, 52.1], [130.6, 48.5], [131.0, 46], [131.4, 44.5], [131.87, 43.4], [132.7, 44], [133.59, 42.7], [134.5, 43.5], [135.32, 44.9], [136.4, 43.5], [137.56, 41.9], [138.4, 40], [139.29, 38.1], [140.3, 41], [141.36, 43.4], [142.3, 44], [143.2, 45], [143.7, 48.5], [144.13, 52.5], [144.9, 48.5], [145.68, 46.1], [146.8, 44], [147.93, 41.9], [148.8, 44], [149.65, 46.1], [150.7, 44], [151.73, 41.9], [152.8, 43], [153.8, 44.2], [154.7, 45.5], [155.53, 46.8], [156.6, 44], [157.77, 41.9], [159.1, 44.5], [160.36, 47.2], [161.0, 45], [161.74, 42.3], [162.6, 41.5], [163.47, 40.4], [164.3, 43], [165.2, 45.7], [166.2, 43.5], [167.27, 41.1], [168.0, 42.5], [168.8, 44], [169.2, 47.5], [169.52, 51.4], [170.1, 46], [170.73, 42.7], [171.8, 43.5], [172.8, 43.4], [173.9, 42], [175.04, 40.4], [176.3, 42.5], [177.63, 44.2], [178.5, 45], [179.36, 44.6], [180.2, 43], [181.09, 41.9], [182.4, 41], [183.68, 39.6], [184.5, 37.5], [185.41, 35.8], [186.3, 39.5], [187.13, 42.7], [188.0, 41.5], [188.86, 40.4], [190.0, 42], [191.11, 43.8], [192.0, 40.5], [192.83, 37.3], [193.9, 39], [194.91, 40.4], [196.2, 40.5], [197.5, 41.1], [198.4, 40], [199.22, 38.1], [200.1, 36], [200.95, 34.3], [201.8, 38], [202.68, 41.5], [203.8, 40], [204.92, 38.9], [206.0, 37], [206.99, 35.1], [208.0, 38], [209.07, 40.4], [210.2, 39], [211.31, 37.7], [212.4, 39], [213.56, 40.8], [214.4, 42], [215.28, 43.4], [216.1, 40], [217.01, 37.3], [218.0, 39], [219.08, 40.8], [220.1, 39], [221.16, 37.3], [222.3, 38.5], [223.4, 38.9], [224.7, 40.5], [225.99, 41.9], [226.9, 39.5], [227.72, 37.3], [228.6, 35.5], [229.45, 33.9], [230.3, 36], [231.17, 38.1], [232.2, 40], [233.25, 41.5], [234.1, 39], [234.97, 36.6], [236.1, 37.5], [237.22, 38.9], [238.1, 37.5], [238.95, 36.6], [240.1, 38], [241.19, 39.2], [241.8, 36], [242.4, 33.2], [243.3, 35.5], [244.13, 37.3], [245.0, 38.5], [245.86, 37.7], [247.2, 37], [248.45, 35.8], [249.3, 34], [250.17, 32.4], [250.9, 36], [251.55, 38.9], [252.4, 40], [253.28, 40.8], [254.3, 40], [255.35, 38.9], [256.2, 42], [257.08, 44.9], [257.9, 46], [258.81, 47.2], [259.7, 49.5], [260.53, 52.1], [261.4, 50.5], [262.26, 49.5], [263.0, 51], [263.64, 52.5], [264.0, 51], [264.3, 50], [264.85, 43.4], [265.7, 42.5], [266.58, 41.9], [267.2, 44], [267.8, 43],
];
const chr9Kmer: [number, number][] = [
  [0, 0.86], [0.5, 0.5], [1.12, 0.275], [1.6, 0.45], [2.16, 0.586], [2.5, 0.5], [2.85, 0.525], [3.2, 0.56], [3.54, 0.597], [4.23, 0.207], [4.92, 0.055], [5.3, 0.045], [5.79, 0.04], [6.1, 0.055], [6.4, 0.05], [6.7, 0.04], [7.0, 0.048], [7.69, 0.093], [8.38, 0.366], [8.7, 0.27], [9.07, 0.237], [9.4, 0.25], [9.76, 0.222], [10.1, 0.2], [10.45, 0.184], [11.0, 0.14], [11.49, 0.116], [12.0, 0.1], [12.52, 0.078], [13.0, 0.095], [13.56, 0.086], [14.1, 0.07], [14.59, 0.063], [15.28, 0.169], [15.98, 0.101], [16.5, 0.07], [17.01, 0.055], [17.7, 0.08], [18.39, 0.07], [19.2, 0.05], [19.7, 0.062], [20.12, 0.04], [21.0, 0.055], [21.85, 0.048], [22.4, 0.058], [22.9, 0.04], [23.4, 0.046], [23.92, 0.029],
  [24.8, 0.042], [25.65, 0.04], [26.3, 0.05], [27.0, 0.046], [27.6, 0.058], [28.24, 0.07], [29.1, 0.05], [29.97, 0.04], [30.6, 0.052], [31.2, 0.05], [31.9, 0.04], [32.56, 0.048], [33.2, 0.055], [33.8, 0.04], [34.5, 0.042], [35.15, 0.033], [35.8, 0.044], [36.4, 0.045], [37.1, 0.038], [37.74, 0.052], [38.4, 0.046], [39.0, 0.045], [39.7, 0.054], [40.33, 0.044], [41.0, 0.05], [41.6, 0.05], [42.3, 0.04], [42.92, 0.036], [43.6, 0.046], [44.2, 0.045], [44.9, 0.054], [45.51, 0.048], [46.2, 0.05], [46.8, 0.055], [47.5, 0.045], [48.1, 0.04], [48.7, 0.046], [49.2, 0.035], [49.7, 0.04], [50.17, 0.029], [51.0, 0.05], [51.9, 0.078], [52.4, 0.058], [52.8, 0.05], [53.2, 0.048], [53.63, 0.04], [54.2, 0.048], [54.7, 0.042], [55.3, 0.052], [55.87, 0.048], [56.5, 0.054], [57.2, 0.055], [57.8, 0.044], [58.46, 0.04], [59.2, 0.048], [60.0, 0.045], [60.8, 0.056], [61.57, 0.067], [62.1, 0.056], [62.6, 0.05], [63.1, 0.045], [63.64, 0.036], [64.3, 0.044], [65.0, 0.045], [65.6, 0.052], [66.23, 0.048], [66.9, 0.054], [67.5, 0.055], [68.2, 0.044], [68.83, 0.04], [69.5, 0.048], [70.1, 0.05], [70.8, 0.044], [71.42, 0.052], [72.1, 0.05], [72.7, 0.045], [73.4, 0.044], [74.01, 0.036], [74.7, 0.046], [75.3, 0.05], [76.0, 0.048], [76.6, 0.055], [77.2, 0.058], [77.9, 0.06], [78.5, 0.058], [79.19, 0.067], [79.8, 0.056], [80.5, 0.05], [81.1, 0.052], [81.78, 0.048], [82.2, 0.055], [82.7, 0.06], [83.1, 0.075], [83.51, 0.093], [84.0, 0.07], [84.4, 0.06], [84.8, 0.06], [85.23, 0.055], [85.9, 0.05], [86.5, 0.045], [87.2, 0.046], [87.82, 0.04], [88.5, 0.048], [89.1, 0.05], [89.8, 0.056], [90.41, 0.059], [91.0, 0.058], [91.5, 0.065], [92.1, 0.068], [92.66, 0.074], [93.2, 0.058], [93.7, 0.05], [94.2, 0.052], [94.73, 0.048], [95.4, 0.046], [96.0, 0.04], [96.7, 0.04], [97.32, 0.033], [98.0, 0.042], [98.6, 0.045], [99.3, 0.05], [99.91, 0.052], [100.6, 0.046], [101.2, 0.045], [101.9, 0.042], [102.5, 0.036], [103.2, 0.046], [103.8, 0.05], [104.5, 0.052], [105.09, 0.055], [105.7, 0.05], [106.4, 0.05], [107.0, 0.044], [107.69, 0.04], [108.3, 0.045], [109.0, 0.045], [109.6, 0.05], [110.28, 0.048], [110.9, 0.042], [111.6, 0.04], [112.2, 0.042], [112.87, 0.036], [113.5, 0.045], [114.2, 0.05], [114.8, 0.05], [115.46, 0.055], [116.1, 0.048], [116.8, 0.045], [117.4, 0.044], [118.05, 0.04], [118.7, 0.047], [119.3, 0.05], [120.0, 0.046], [120.64, 0.048], [121.3, 0.05], [121.9, 0.045], [122.6, 0.042], [123.23, 0.036], [123.9, 0.043], [124.5, 0.045], [125.2, 0.05], [125.82, 0.052], [126.5, 0.046], [127.1, 0.045], [127.8, 0.044], [128.41, 0.04], [129.1, 0.047], [129.7, 0.05], [130.4, 0.05], [131.0, 0.055], [131.7, 0.048], [132.3, 0.045], [132.9, 0.042], [133.59, 0.036], [134.2, 0.045], [134.9, 0.05], [135.5, 0.054], [136.18, 0.059], [136.9, 0.052], [137.7, 0.05], [138.5, 0.052], [139.29, 0.048], [139.9, 0.044], [140.5, 0.045], [141.1, 0.052], [141.71, 0.055], [142.4, 0.056], [143.0, 0.06], [143.4, 0.063], [143.8, 0.07], [144.1, 0.08], [144.47, 0.093], [145.0, 0.072], [145.5, 0.06], [146.0, 0.052], [146.55, 0.04], [147.2, 0.046], [147.8, 0.045], [148.5, 0.05], [149.14, 0.052], [149.8, 0.046], [150.4, 0.045], [151.1, 0.042], [151.73, 0.033], [152.4, 0.04], [153.0, 0.04], [153.7, 0.046], [154.32, 0.048], [155.0, 0.044], [155.6, 0.045], [156.3, 0.044], [156.91, 0.04], [157.6, 0.045], [158.2, 0.045], [158.9, 0.05], [159.5, 0.052], [160.2, 0.054], [160.8, 0.06], [161.5, 0.063], [162.09, 0.07], [162.8, 0.058], [163.4, 0.05], [164.0, 0.044], [164.68, 0.033], [165.3, 0.04], [166.0, 0.04], [166.6, 0.046], [167.27, 0.048], [167.9, 0.052], [168.5, 0.06], [168.9, 0.08], [169.34, 0.101], [169.8, 0.078], [170.2, 0.06], [170.6, 0.052], [171.07, 0.04], [171.6, 0.047], [172.2, 0.05], [172.8, 0.05], [173.32, 0.055], [174.0, 0.05], [174.6, 0.05], [175.3, 0.046], [175.91, 0.048], [176.6, 0.044], [177.2, 0.045], [177.9, 0.042], [178.5, 0.036], [179.2, 0.042], [179.8, 0.045], [180.4, 0.05], [181.09, 0.052], [181.7, 0.052], [182.4, 0.055], [183.0, 0.055], [183.68, 0.059], [184.3, 0.053], [185.0, 0.05], [185.6, 0.047], [186.27, 0.04], [186.9, 0.047], [187.5, 0.05], [188.2, 0.058], [188.86, 0.07], [189.5, 0.058], [190.2, 0.05], [190.8, 0.049], [191.45, 0.044], [192.1, 0.049], [192.7, 0.05], [193.4, 0.05], [194.04, 0.055], [194.7, 0.048], [195.3, 0.045], [196.0, 0.042], [196.63, 0.036], [197.3, 0.042], [197.9, 0.045], [198.6, 0.05], [199.22, 0.052], [199.6, 0.058], [200.0, 0.06], [200.5, 0.065], [200.95, 0.074], [201.6, 0.058], [202.2, 0.05], [202.9, 0.047], [203.54, 0.04], [204.2, 0.045], [204.8, 0.045], [205.5, 0.049], [206.13, 0.048], [206.8, 0.044], [207.4, 0.045], [208.1, 0.042], [208.72, 0.036], [209.4, 0.042], [210.0, 0.045], [210.7, 0.052], [211.31, 0.055], [212.0, 0.05], [212.6, 0.05], [213.3, 0.045], [213.9, 0.044], [214.6, 0.044], [215.2, 0.04], [215.8, 0.04], [216.49, 0.036], [217.2, 0.045], [217.8, 0.05], [218.4, 0.053], [219.08, 0.059], [219.7, 0.058], [220.4, 0.06], [221.0, 0.061], [221.67, 0.067], [222.3, 0.056], [223.0, 0.05], [223.6, 0.045], [224.27, 0.036], [224.9, 0.042], [225.6, 0.045], [226.2, 0.049], [226.86, 0.048], [227.5, 0.044], [228.2, 0.045], [228.8, 0.046], [229.45, 0.044], [230.1, 0.049], [230.7, 0.05], [231.4, 0.05], [232.04, 0.055], [232.7, 0.054], [233.3, 0.058], [234.0, 0.058], [234.63, 0.063], [235.3, 0.054], [235.9, 0.05], [236.6, 0.049], [237.22, 0.044], [237.8, 0.06], [238.43, 0.089], [239.1, 0.06], [239.81, 0.048], [240.3, 0.046], [240.8, 0.04], [241.3, 0.034], [241.88, 0.025], [242.4, 0.037], [243.0, 0.045], [243.6, 0.048], [244.13, 0.055], [244.8, 0.05], [245.4, 0.05], [246.1, 0.047], [246.72, 0.048], [247.4, 0.042], [248.0, 0.04], [248.7, 0.04], [249.31, 0.036],
  [250.0, 0.06], [250.52, 0.101], [251.2, 0.08], [251.9, 0.089], [252.8, 0.085], [253.63, 0.093], [254.5, 0.08], [255.35, 0.078], [256.22, 0.123], [257.08, 0.146], [257.94, 0.199], [258.81, 0.26], [259.3, 0.3], [259.67, 0.366], [260.19, 0.22], [260.88, 0.063], [261.4, 0.05], [261.92, 0.04], [262.5, 0.048], [263.13, 0.052], [263.6, 0.048], [263.99, 0.1], [264.4, 0.35], [264.85, 0.589], [265.3, 0.52], [265.72, 0.525], [266.1, 0.56], [266.41, 0.586], [267.1, 0.267], [267.8, 0.86],
];
const chr9Genes: [number, number, number][] = [
  [9.8, 10.4, 1], [11.8, 13.2, 1], [14.9, 17.0, 1], [17.9, 20.5, 1], [20.7, 23.0, 0], [23.2, 25.4, 0], [25.6, 27.5, 0], [27.7, 29.0, 1], [29.2, 31.5, 0], [32.6, 34.5, 1], [34.7, 36.9, 1], [37.1, 38.4, 0], [38.6, 40.8, 1], [41.0, 43.3, 1], [43.5, 44.6, 0], [44.8, 47.0, 1], [47.2, 49.5, 1], [49.7, 51.0, 0], [51.2, 53.2, 1], [53.4, 55.0, 1], [55.3, 57.8, 0], [58.0, 60.3, 0], [60.5, 61.4, 1], [61.6, 64.2, 0], [64.4, 66.7, 0], [66.9, 67.8, 1], [68.0, 70.6, 0], [70.8, 73.0, 0], [73.2, 74.1, 1], [74.3, 76.8, 0], [77.0, 79.3, 0], [79.5, 80.7, 1], [81.0, 83.2, 1], [83.4, 85.8, 1], [86.0, 87.1, 0], [87.3, 89.6, 1], [89.8, 92.0, 1], [92.2, 94.7, 1], [95.0, 97.6, 0], [97.8, 100.1, 0], [100.3, 101.2, 1], [101.4, 103.9, 0], [104.1, 106.4, 0], [106.6, 107.5, 1], [107.7, 110.2, 0], [110.4, 112.8, 0], [113.0, 113.9, 1], [114.1, 116.6, 0], [116.8, 119.1, 0], [119.3, 120.2, 1], [120.4, 122.9, 0], [123.1, 125.5, 0], [125.8, 128.0, 1], [128.2, 130.5, 1], [130.7, 131.8, 0], [132.0, 134.2, 1], [134.4, 136.2, 1], [136.5, 139.0, 0], [139.2, 141.5, 0], [141.7, 142.6, 1], [142.8, 145.3, 0], [145.5, 147.8, 0], [148.0, 148.9, 1], [149.1, 151.6, 0], [151.8, 153.3, 0], [153.5, 155.8, 1], [156.0, 158.4, 1], [158.6, 159.7, 0], [159.9, 162.2, 1], [162.4, 163.8, 1], [164.0, 166.5, 0], [166.7, 169.0, 0], [169.2, 170.1, 1], [170.3, 172.8, 0], [173.0, 175.4, 0], [175.6, 176.5, 1], [176.7, 178.9, 0], [179.1, 180.8, 0], [181.0, 183.3, 1], [183.5, 185.8, 1], [186.0, 187.2, 0], [187.4, 189.7, 1], [190.0, 192.5, 0], [192.7, 195.0, 0], [195.2, 196.1, 1], [196.3, 198.8, 0], [199.0, 201.3, 0], [201.5, 202.4, 1], [202.6, 205.1, 0], [205.3, 207.6, 0], [207.8, 208.7, 1], [208.9, 211.4, 0], [211.6, 213.9, 0], [214.1, 215.0, 1], [215.2, 218.8, 0], [219.0, 221.4, 1], [221.6, 223.0, 0], [223.2, 225.6, 1], [225.8, 227.7, 1], [228.0, 230.5, 0], [230.7, 233.0, 0], [233.2, 234.1, 1], [234.3, 236.8, 0], [237.0, 239.3, 0], [239.5, 240.4, 1], [240.6, 243.1, 0], [243.3, 245.6, 0], [245.8, 246.7, 1], [246.9, 248.4, 0], [249.3, 251.9, 1], [253.3, 255.4, 1], [256.2, 258.0, 1],
];
const chr9RrnaRegions: [number, number][] = [[4.5, 6.2], [6.2, 8.5], [260.8, 261.4], [261.4, 265.0]];
const chr9RrnaBars: [number, number][] = [[6.2, 8.5], [261.4, 265.0]];
const chr9RrnaLabels: number[] = [6.7, 262.5];

const ORANGE = '#ffa500';
const BLUE = '#2f77b6';
const PURPLE = '#8e2c9c';
const FONT = 'Roboto, "Noto Sans", sans-serif';

const panels = [
  { accession: 'GCA_024399295: CP075158', label: 'Chromosome I', length: 188.6, step: 25, gc: chr1Gc, kmer: chr1Kmer, genes: chr1Genes, rrnaRegions: chr1RrnaRegions, rrnaBars: chr1RrnaBars, rrnaLabels: chr1RrnaLabels, box: { left: 63, top: 22, width: 787, height: 438 }, titleDy: 25 },
  { accession: 'GCA_024399295: CP075162', label: 'Chromosome V', length: 225.0, step: 50, gc: chr5Gc, kmer: chr5Kmer, genes: chr5Genes, rrnaRegions: chr5RrnaRegions, rrnaBars: chr5RrnaBars, rrnaLabels: chr5RrnaLabels, box: { left: 63, top: 554.5, width: 787, height: 440 }, titleDy: 28 },
  { accession: 'GCA_024399295: CP075166', label: 'Chromosome IX', length: 267.8, step: 50, gc: chr9Gc, kmer: chr9Kmer, genes: chr9Genes, rrnaRegions: chr9RrnaRegions, rrnaBars: chr9RrnaBars, rrnaLabels: chr9RrnaLabels, box: { left: 68, top: 1088, width: 785, height: 440 }, titleDy: 29 },
];

const RUG_TOP = 0.025;

function buildOption() {
  const grid: any[] = [];
  const xAxis: any[] = [];
  const yAxis: any[] = [];
  const series: any[] = [];
  const graphic: any[] = [];
  const tickStyle = { show: true, inside: false, length: 5, lineStyle: { color: '#000', width: 1 } };
  const lineStyle = { show: true, lineStyle: { color: '#000', width: 1 } };

  panels.forEach((p, i) => {
    const b = p.box;
    grid.push({ left: b.left, top: b.top, width: b.width, height: b.height, containLabel: false, outerBoundsMode: 'none', show: true, borderColor: '#000', borderWidth: 1, backgroundColor: 'transparent' });
    xAxis.push({
      gridIndex: i, type: 'value', min: 0, max: p.length, interval: p.step,
      axisLine: lineStyle, axisTick: tickStyle, splitLine: { show: false },
      axisLabel: { color: '#000', fontSize: 18, fontFamily: FONT, margin: 8, showMaxLabel: false, formatter: (v: number) => (v === 0 ? '0' : `${v}k`) },
    });
    yAxis.push({
      gridIndex: i, type: 'value', min: 0, max: 100, interval: 20, position: 'left',
      axisLine: lineStyle, axisTick: tickStyle, splitLine: { show: false },
      axisLabel: { color: '#000', fontSize: 18, fontFamily: FONT, margin: 9 },
    });
    yAxis.push({
      gridIndex: i, type: 'value', min: 0, max: 1, interval: 0.2, position: 'right',
      axisLine: lineStyle, axisTick: tickStyle, splitLine: { show: false },
      axisLabel: { color: '#000', fontSize: 18, fontFamily: FONT, margin: 8, formatter: (v: number) => (v === 0 ? '0' : v.toFixed(1)) },
    });

    // gene rug
    series.push({
      type: 'custom', xAxisIndex: i, yAxisIndex: 2 * i + 1, z: 1, silent: true,
      data: p.genes, encode: { x: [0, 1], y: 2 },
      renderItem: (_params: any, api: any) => {
        const s = api.coord([api.value(0), 0]);
        const e = api.coord([api.value(1), RUG_TOP]);
        const blue = api.value(2) === 1;
        return {
          type: 'rect',
          shape: { x: s[0], y: e[1], width: Math.max(e[0] - s[0], 1), height: s[1] - e[1] },
          style: blue
            ? { fill: 'rgba(80,120,185,0.27)', stroke: 'rgba(80,120,185,0.38)', lineWidth: 0.8 }
            : { fill: 'rgba(60,200,178,0.25)', stroke: 'rgba(60,200,178,0.42)', lineWidth: 0.8 },
        };
      },
    });
    // rRNA shaded region
    series.push({
      type: 'custom', xAxisIndex: i, yAxisIndex: 2 * i + 1, z: 1, silent: true,
      data: p.rrnaRegions, encode: { x: [0, 1] },
      renderItem: (_params: any, api: any) => {
        const s = api.coord([api.value(0), 0]);
        const e = api.coord([api.value(1), RUG_TOP]);
        return {
          type: 'rect',
          shape: { x: s[0], y: e[1], width: Math.max(e[0] - s[0], 1), height: s[1] - e[1] },
          style: { fill: 'rgba(160,70,175,0.3)', stroke: 'rgba(145,45,160,0.5)', lineWidth: 1 },
        };
      },
    });
    // rRNA bar below the axis
    series.push({
      type: 'custom', xAxisIndex: i, yAxisIndex: 2 * i + 1, z: 5, silent: true, clip: false,
      data: p.rrnaBars, encode: { x: [0, 1] },
      renderItem: (_params: any, api: any) => {
        const s = api.coord([api.value(0), 0]);
        const e = api.coord([api.value(1), 0]);
        return { type: 'rect', shape: { x: s[0], y: s[1] + 3, width: e[0] - s[0], height: 5 }, style: { fill: PURPLE } };
      },
    });
    // rRNA labels
    series.push({
      type: 'custom', xAxisIndex: i, yAxisIndex: 2 * i + 1, z: 5, silent: true, clip: false,
      data: p.rrnaLabels.map((v) => [v, 0]), encode: { x: 0, y: 1 },
      renderItem: (_params: any, api: any) => {
        const c = api.coord([api.value(0), 0]);
        return {
          type: 'text', x: c[0], y: c[1] + 10, rotation: Math.PI / 2,
          style: { text: 'rRNAs', fill: PURPLE, fontSize: 19, fontFamily: FONT, align: 'right', verticalAlign: 'middle' },
        };
      },
    });
    series.push({
      type: 'line', name: 'GC content', xAxisIndex: i, yAxisIndex: 2 * i, data: p.gc, z: 3,
      showSymbol: false, symbol: 'none', lineStyle: { color: ORANGE, width: 2.6 }, itemStyle: { color: ORANGE },
    });
    series.push({
      type: 'line', name: 'kmer (size=7) redundancy', xAxisIndex: i, yAxisIndex: 2 * i + 1, data: p.kmer, z: 4,
      showSymbol: false, symbol: 'none', lineStyle: { color: BLUE, width: 2.5 }, itemStyle: { color: BLUE },
    });

    // axis names
    const cy = b.top + b.height / 2;
    const R = b.left + b.width;
    graphic.push({ type: 'text', x: 20, y: cy, rotation: Math.PI / 2, style: { text: '% GC', fill: '#000', fontSize: 26, fontWeight: 'bold', fontFamily: FONT, align: 'center', verticalAlign: 'middle' } });
    graphic.push({ type: 'text', x: R + 49, y: cy, rotation: Math.PI / 2, style: { text: 'kmer redundancy', fill: '#000', fontSize: 26, fontWeight: 'bold', fontFamily: FONT, align: 'center', verticalAlign: 'middle' } });

    // titles
    const tx = b.left + 18;
    graphic.push({ type: 'text', x: tx, y: b.top + p.titleDy, scaleX: 0.78, style: { text: p.accession, fill: '#000', fontSize: 22, fontWeight: 'bold', fontFamily: FONT, align: 'left', verticalAlign: 'middle' } });
    graphic.push({ type: 'text', x: tx, y: b.top + p.titleDy + 27, style: { text: p.label, fill: '#000', fontSize: 23, fontFamily: FONT, align: 'left', verticalAlign: 'middle' } });
    // legend
    const ly = [b.top + 20, b.top + 46, b.top + 77];
    graphic.push({ type: 'line', shape: { x1: R - 146, y1: ly[0], x2: R - 127, y2: ly[0] }, style: { stroke: ORANGE, lineWidth: 3 } });
    graphic.push({ type: 'line', shape: { x1: R - 146, y1: ly[1], x2: R - 127, y2: ly[1] }, style: { stroke: BLUE, lineWidth: 3 } });
    graphic.push({ type: 'text', x: R - 121, y: ly[0], style: { text: 'GC content', fill: '#000', fontSize: 18.5, fontFamily: FONT, align: 'left', verticalAlign: 'middle' } });
    graphic.push({ type: 'text', x: R - 121, y: ly[1], style: { text: 'kmer (size=7)', fill: '#000', fontSize: 18.5, fontFamily: FONT, align: 'left', verticalAlign: 'middle' } });
    graphic.push({ type: 'text', x: R - 121, y: ly[2], style: { text: 'redundancy', fill: '#000', fontSize: 18.5, fontFamily: FONT, align: 'left', verticalAlign: 'middle' } });
  });

  return { animation: false, backgroundColor: '#fff', grid, xAxis, yAxis, series, graphic };
}

export default function App() {
  const ref = useRef<HTMLDivElement>(null);
  useEffect(() => {
    if (!ref.current) return;
    const chart = echarts.init(ref.current, null, { renderer: 'svg' });
    chart.setOption(buildOption() as any);
    return () => chart.dispose();
  }, []);
  return <div ref={ref} style={{ position: 'absolute', left: 0, top: 0, width: 922, height: 1583, background: '#fff' }} />;
}
